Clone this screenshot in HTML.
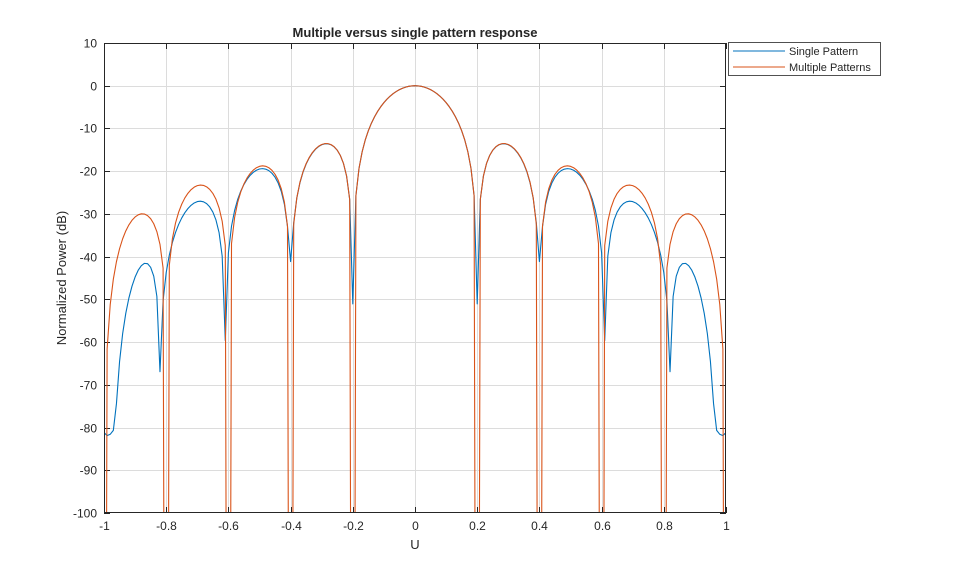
<!DOCTYPE html>
<html><head><meta charset="utf-8"><style>
html,body{margin:0;padding:0;background:#fff;overflow:hidden;width:959px;height:577px;}
svg{display:block;}
svg text{font-family:"Liberation Sans",Arial,sans-serif;fill:#262626;}
</style></head><body>
<svg id="s" width="959" height="577" xmlns="http://www.w3.org/2000/svg">
<rect width="959" height="577" fill="#fff"/>
<g id="grid" stroke="#dcdcdc" stroke-width="1"></g>
<g id="ticks" font-size="12"></g>
<defs><clipPath id="c"><rect x="104" y="43" width="622" height="470"/></clipPath></defs>
<g clip-path="url(#c)" fill="none" stroke-width="1.1" stroke-linejoin="round">
<path id="pb" stroke="#0072BD"/>
<path id="po" stroke="#D95319"/>
</g>
<rect x="104.5" y="43.5" width="621" height="469" fill="none" stroke="#262626" stroke-width="1"/>
<text x="415" y="37" font-size="13" font-weight="bold" text-anchor="middle" fill="#000">Multiple versus single pattern response</text>
<text x="415" y="549" font-size="13" text-anchor="middle">U</text>
<text transform="translate(66,278) rotate(-90)" font-size="13" text-anchor="middle">Normalized Power (dB)</text>
<rect x="728.5" y="42.5" width="152" height="33" fill="#fff" stroke="#262626" stroke-width="0.8"/>
<line x1="733" y1="51" x2="785" y2="51" stroke="#0072BD"/>
<line x1="733" y1="67" x2="785" y2="67" stroke="#D95319"/>
<text x="789" y="55" font-size="11" fill="#000">Single Pattern</text>
<text x="789" y="71" font-size="11" fill="#000">Multiple Patterns</text>
</svg>
<script>
var X0=104,X1=726,Y0=43,Y1=513;
function px(u){return X0+(u+1)/2*(X1-X0);}
function py(d){return Y0+(10-d)/110*(Y1-Y0);}
var g=document.getElementById('grid'),t=document.getElementById('ticks'),ns='http://www.w3.org/2000/svg';
function el(p,n,a,txt){var e=document.createElementNS(ns,n);for(var k in a)e.setAttribute(k,a[k]);if(txt!=null)e.textContent=txt;p.appendChild(e);}
for(var i=0;i<=10;i++){var u=-1+i*0.2,x=Math.round(px(u))+0.5;
 if(i>0&&i<10)el(g,'line',{x1:x,y1:Y0,x2:x,y2:Y1});
 el(t,'line',{x1:x,y1:Y1,x2:x,y2:Y1-6,stroke:'#262626'});
 el(t,'line',{x1:x,y1:Y0,x2:x,y2:Y0+6,stroke:'#262626'});
 var lab=(Math.abs(u)<1e-9)?'0':(Math.round(u*10)/10).toString();
 el(t,'text',{x:x,y:Y1+17,'text-anchor':'middle'},lab);}
for(var d=10;d>=-100;d-=10){var y=Math.round(py(d))+0.5;
 if(d<10&&d>-100)el(g,'line',{x1:X0,y1:y,x2:X1,y2:y});
 el(t,'line',{x1:X0,y1:y,x2:X0+6,y2:y,stroke:'#262626'});
 el(t,'line',{x1:X1,y1:y,x2:X1-6,y2:y,stroke:'#262626'});
 el(t,'text',{x:X0-7,y:y+4,'text-anchor':'end'},d.toString());}
function af(u){var a=Math.PI*u/2;if(Math.abs(Math.sin(a))<1e-9)return 1;return Math.sin(10*a)/(10*Math.sin(a));}
function interp(tab,u){for(var i=0;i<tab.length-1;i++){if(u<=tab[i+1][0]){var f=(u-tab[i][0])/(tab[i+1][0]-tab[i][0]);return tab[i][1]+f*(tab[i+1][1]-tab[i][1]);}}return tab[tab.length-1][1];}
var en=[[0,0.0028],[0.2,0.0028],[0.4,0.009],[0.6,0.0013],[0.8,0.0012],[1,0.0009]];
var wt=[[0,0],[0.4,0.4],[0.61,0.6],[0.82,0.8],[0.97,1.0],[1.0,0.99]];
var B=[],O=[];
for(var k=0;k<=200;k++){var u=-1+k*0.01;if(Math.abs(u)<1e-9)u=0;var au=Math.abs(u);
 var c=Math.pow(Math.max(0,1-u*u),0.75);var a=af(u);var v=Math.abs(a*c);
 var o=v<1e-15?-300:20*Math.log10(v);if(o<-300)o=-300;
 var w=interp(wt,au);var cw=Math.pow(Math.max(0,1-w*w),0.75);var aw=af(w);var e=interp(en,w);
 var b=20*Math.log10(Math.sqrt(aw*aw*cw*cw+e*e))-23*Math.pow(au,5);
 O.push([u,o]);B.push([u,b]);}
function build(P){var L=-102,s='',pen=false;
 for(var i=0;i<P.length;i++){var p=P[i];
  if(i>0){var q=P[i-1];
   if((q[1]>=L)!=(p[1]>=L)){var f=(L-q[1])/(p[1]-q[1]);var xu=q[0]+f*(p[0]-q[0]);
    s+=(pen?'L':'M')+px(xu).toFixed(2)+','+py(L).toFixed(2);pen=p[1]>=L;}}
  if(p[1]>=L){s+=(pen?'L':'M')+px(p[0]).toFixed(2)+','+py(p[1]).toFixed(2);pen=true;}else pen=false;}
 return s;}
document.getElementById('po').setAttribute('d',build(O));
document.getElementById('pb').setAttribute('d',build(B));
</script>
</body></html>
